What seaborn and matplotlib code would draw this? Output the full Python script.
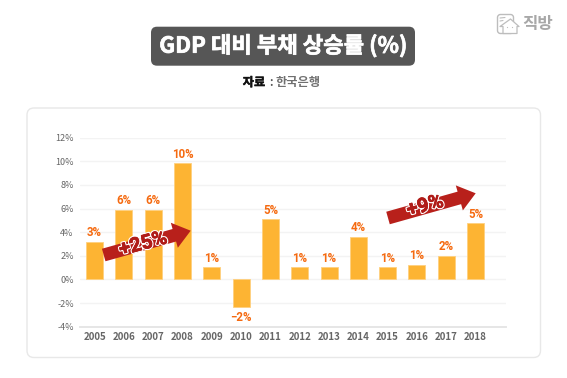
import numpy as np
import pandas as pd
import matplotlib
matplotlib.use("Agg")
import matplotlib.pyplot as plt
import matplotlib.patheffects as pe
from matplotlib.patches import FancyBboxPatch, FancyArrow, Polygon, Circle
import seaborn as sns

years = ["2005","2006","2007","2008","2009","2010","2011","2012","2013","2014","2015","2016","2017","2018"]
values = [3.2, 5.9, 5.9, 9.85, 1.05, -2.3, 5.1, 1.05, 1.05, 3.6, 1.05, 1.25, 2.0, 4.75]
labels = ["3%","6%","6%","10%","1%","−2%","5%","1%","1%","4%","1%","1%","2%","5%"]
yticks = [-4,-2,0,2,4,6,8,10,12]
title = "GDP 대비 부채 상승률 (%)"

sns.set_theme(style="white")
plt.rcParams['font.family'] = ['Noto Sans CJK KR', 'DejaVu Sans']
NARROW = ['Roboto', 'DejaVu Sans']
W, H = 567, 378
fig = plt.figure(figsize=(W/100, H/100), dpi=100, facecolor="white")

def fx(x): return x/W
def fy(y): return 1-y/H

bg = fig.add_axes([0,0,1,1], zorder=0)
bg.set_xlim(0,W); bg.set_ylim(H,0); bg.axis("off")
bg.add_patch(FancyBboxPatch((27,108),513.5,249.5,boxstyle="round,pad=0,rounding_size=7",
                            fc="white", ec="#E8E8E8", lw=1.0))
bg.add_patch(FancyBboxPatch((151,26.7),264,39,boxstyle="round,pad=0,rounding_size=6",
                            fc="#565656", ec="none"))
bg.text(283.5,46,title,color="white",fontsize=16,fontweight="bold",ha="center",va="center",
        path_effects=[pe.withStroke(linewidth=0.5,foreground="white")])
bg.text(254,82.7,"자료",color="#111111",fontsize=8.8,fontweight="bold",ha="center",va="center",
        path_effects=[pe.withStroke(linewidth=0.3,foreground="#111111")])
bg.text(270.7,82.2,":",color="#555555",fontsize=8,fontweight="bold",ha="center",va="center")
bg.text(298.5,82.7,"한국은행",color="#707070",fontsize=8.8,fontweight="bold",ha="center",va="center")
# logo
LG = "#BDBDBD"
bg.text(537.5,24.5,"직방",color="#A8A8A8",fontsize=12,fontweight="bold",ha="center",va="center")
bg.add_patch(FancyBboxPatch((497.5,14.5),16,19,boxstyle="round,pad=0,rounding_size=3",fc="none",ec=LG,lw=1))
bg.plot([500,505],[18,17.5],color=LG,lw=0.8)
bg.plot([500,503],[21,20.5],color=LG,lw=0.8)
bg.add_patch(Polygon([[500,26.5],[510.5,19],[519,26.5],[517,26.5],[517,33.5],[503,33.5],[503,26.5]],
                     closed=True,fc="white",ec=LG,lw=0.9,joinstyle="round"))
bg.add_patch(Circle((507.5,27.5),0.6,fc=LG,ec="none"))
bg.add_patch(Circle((512.5,27.5),0.6,fc=LG,ec="none"))

ax = fig.add_axes([fx(80), fy(326.7), (506-80)/W, (326.7-137.7)/H], zorder=1)
ax.patch.set_alpha(0)
df = pd.DataFrame({"year":years,"value":values})
sns.barplot(data=df,x="year",y="value",ax=ax,color="#FDB433",width=0.58,saturation=1,
            edgecolor="#FFD080",linewidth=0.6,zorder=3)
ax.set_xlim(-0.5,14.04)
ax.set_ylim(-4,12)
ax.set_yticks(yticks)
ax.set_yticklabels([f"{t}%" for t in yticks])
ax.set_xlabel(""); ax.set_ylabel("")
ax.grid(axis="y",color="#F3F3F3",lw=1)
ax.set_axisbelow(True)
for s in ["top","left","right"]:
    ax.spines[s].set_visible(False)
ax.spines["bottom"].set_color("#E6E6E6"); ax.spines["bottom"].set_linewidth(1.4)
ax.tick_params(axis="both",length=0,labelcolor="#666666")
ax.tick_params(axis="y",labelsize=6.5,pad=4.5)
ax.tick_params(axis="x",labelsize=7,pad=4)
for lab in ax.get_xticklabels():
    lab.set_fontweight("bold")
for i,(v,l) in enumerate(zip(values,labels)):
    off = 6.5 if v>=0 else -7.5
    ax.annotate(l,(i,v),xytext=(0,off),textcoords="offset points",ha="center",va="center",
                color="#F56A10",fontsize=8.3,fontweight="bold",family=NARROW,zorder=5)

fg = fig.add_axes([0,0,1,1], zorder=2)
fg.set_xlim(0,W); fg.set_ylim(H,0); fg.axis("off")
def arrow(x0,y0,x1,y1,txt,tx,ty,rot):
    fg.add_patch(FancyArrow(x0,y0,x1-x0,y1-y0,width=13,head_width=26,head_length=17,
                            length_includes_head=True,fc="#B8201B",ec="none"))
    fg.text(tx,ty,txt,color="#B01C18",fontsize=14.5,fontweight="bold",ha="center",va="center",rotation=rot,
            rotation_mode="anchor",family=NARROW,
            path_effects=[pe.withStroke(linewidth=2.2,foreground="white"),
                          pe.withStroke(linewidth=0.5,foreground="#B01C18")])
arrow(103.7,255,190.7,230.7,"+25%",143,244,15)
arrow(388,218,475.7,193.3,"+9%",425,206,15)
fig.savefig("out.png",dpi=100)
